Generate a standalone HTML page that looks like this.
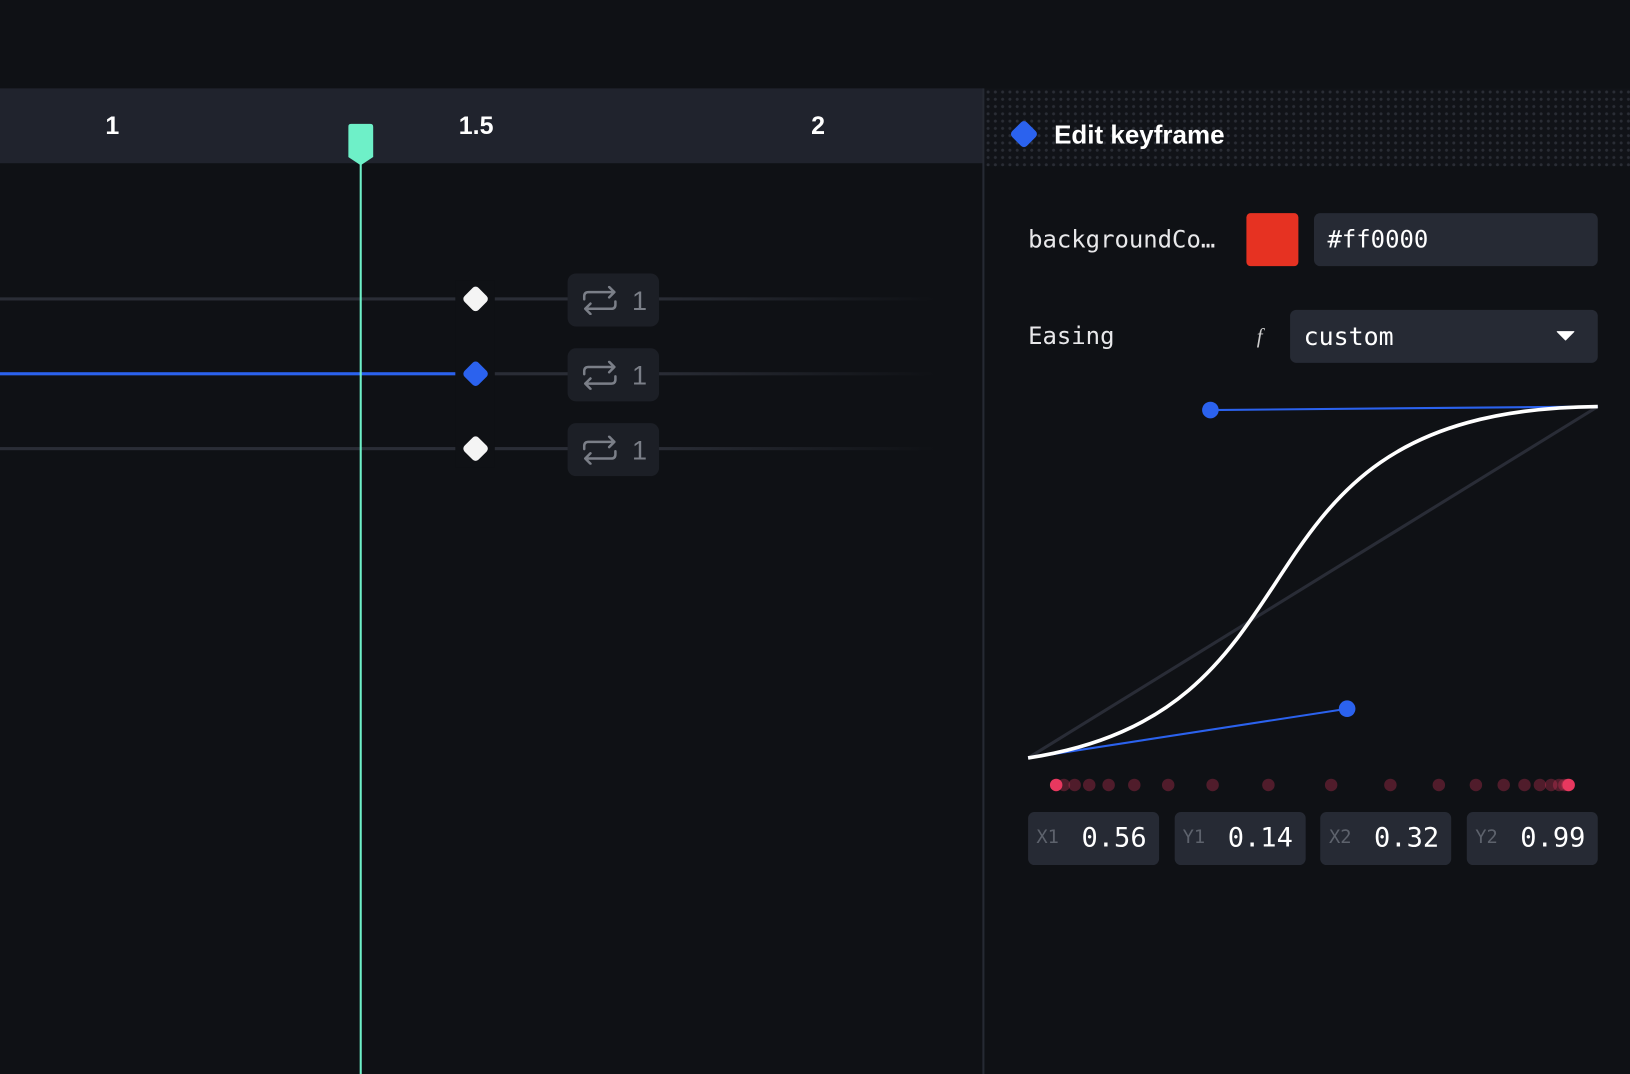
<!DOCTYPE html>
<html><head><meta charset="utf-8">
<style>
html,body{margin:0;padding:0;background:#0f1115;width:1630px;height:1074px;overflow:hidden}
#root{position:absolute;left:0;top:0;width:1568px;height:1033px;transform:scale(1.03954,1.03969);transform-origin:0 0;background:#0f1115;font-family:"Liberation Sans",sans-serif}
.abs{position:absolute}
.mono{font-family:"DejaVu Sans Mono","Liberation Mono",monospace}
.tick{position:absolute;top:108px;color:#fff;font-weight:bold;font-size:24px;transform:translateX(-50%)}
.track{position:absolute;left:0;width:900px;height:3px}
.kf{position:absolute;width:19px;height:19px;border-radius:4px;transform:rotate(45deg)}
.rep{position:absolute;left:546px;width:88px;height:51px;background:#1c1f26;border-radius:8px;color:#7b7f88;font-size:26px}
.field{position:absolute;background:#262a34;border-radius:6px}
.cp{position:absolute;top:781px;width:126px;height:51px;background:#262a34;border-radius:6px}
.cp .l{position:absolute;left:8px;top:14px;color:#5d626c;font-size:18px}
.cp .v{position:absolute;right:12px;top:10px;color:#fff;font-size:26px}
</style></head><body>
<div id="root">
  <div class="abs" style="left:0;top:85px;width:946px;height:72px;background:#20232d"></div>
  <div class="tick" style="left:108px">1</div>
  <div class="tick" style="left:458px">1.5</div>
  <div class="tick" style="left:787px">2</div>

  <div class="track" style="top:286px;background:linear-gradient(90deg,#2a2d36 70%,rgba(42,45,54,0))"></div>
  <div class="track" style="top:358px;background:linear-gradient(90deg,#2b62ee 0,#2b62ee 438px,#2a2d36 438px,#2a2d36 70%,rgba(42,45,54,0))"></div>
  <div class="track" style="top:430px;background:linear-gradient(90deg,#2a2d36 70%,rgba(42,45,54,0))"></div>
  <div class="abs" style="left:438px;top:270px;width:38px;height:180px;background:#0f1115"></div>
  <div class="kf" style="left:448px;top:278px;background:#f4f4f4"></div>
  <div class="kf" style="left:448px;top:350px;background:#2b62ee"></div>
  <div class="kf" style="left:448px;top:422px;background:#f4f4f4"></div>
  <div id="reps"></div>

  <div class="abs" style="left:346px;top:150px;width:2px;height:883px;background:#6ef0c8"></div>
  <svg class="abs" style="left:335px;top:119px" width="25" height="42"><path d="M3 0H21Q24 0 24 3V32L12 40L0 32V3Q0 0 3 0Z" fill="#6ef0c8"/></svg>

  <div class="abs" style="left:945px;top:85px;width:2px;height:948px;background:#262a33"></div>
  <div class="abs" style="left:947px;top:85px;width:621px;height:75px;background-color:#111318;background-image:radial-gradient(circle,#2a2d35 1.3px,transparent 1.6px);background-size:7px 7px"></div>
  <div class="kf" style="left:975px;top:119px;width:20px;height:20px;background:#2b62ee"></div>
  <div class="abs" style="left:1014px;top:116px;color:#fff;font-weight:bold;font-size:25px">Edit keyframe</div>

  <div class="abs mono" style="left:989px;top:218px;color:#e8e8ea;font-size:23px">backgroundCo…</div>
  <div class="abs" style="left:1199px;top:205px;width:50px;height:51px;background:#e63222;border-radius:4px"></div>
  <div class="field mono" style="left:1264px;top:205px;width:273px;height:51px;color:#fff;font-size:23px"><span style="position:absolute;left:13px;top:13px">#ff0000</span></div>

  <div class="abs mono" style="left:989px;top:311px;color:#e8e8ea;font-size:23px">Easing</div>
  <div class="abs" style="left:1209px;top:313px;color:#ccc;font-style:italic;font-family:'Liberation Serif',serif;font-size:20px">f</div>
  <div class="field mono" style="left:1241px;top:298px;width:296px;height:51px;color:#fff;font-size:24px"><span style="position:absolute;left:13px;top:12px">custom</span>
    <svg style="position:absolute;left:256px;top:20px" width="18" height="10"><path d="M1 1H17L9 9Z" fill="#fff" stroke="#fff" stroke-linejoin="round"/></svg></div>

  <svg id="curve" class="abs" style="left:0;top:0" width="1568" height="1033"></svg>
  <div id="cps"></div>
</div>
<script>
const cpLabels = ["X1","Y1","X2","Y2"];
const cpValues = [0.56, 0.14, 0.32, 0.99];
const repeatCounts = [1, 1, 1];
const repeatRows = [263, 335, 407];
const sampleCount = 20;

const reps = document.getElementById('reps');
repeatCounts.forEach((c,i)=>{
  const d=document.createElement('div');
  d.className='rep';
  d.style.top=repeatRows[i]+'px';
  
  
  d.innerHTML='<svg style="position:absolute;left:13px;top:12px" width="36" height="28" fill="none" stroke="#7b7f88" stroke-width="2.4" stroke-linecap="round" stroke-linejoin="round"><path d="M3 13V10Q3 6 7 6H32M27 1L32 6L27 11"/><path d="M33 15V18Q33 22 29 22H4M9 17L4 22L9 27"/></svg><span style="position:absolute;left:62px;top:11px">'+c+'</span>';
  reps.appendChild(d);
});

const X0=989, X1=1537, Y0=729, Y1=391;
const sx=v=>X0+v*(X1-X0);
const sy=v=>Y0-v*(Y0-Y1);
const svg=document.getElementById('curve');
const NS='http://www.w3.org/2000/svg';
function mk(tag,attrs,name){const e=document.createElementNS(NS,tag);for(const k in attrs)e.setAttribute(k,attrs[k]);
  
  
  svg.appendChild(e);return e;}
const [cx1,cy1,cx2,cy2]=cpValues;
mk('line',{x1:sx(0),y1:sy(0),x2:sx(1),y2:sy(1),stroke:'#292c36','stroke-width':3},'linear-reference');
mk('line',{x1:sx(0),y1:sy(0),x2:sx(cx1),y2:sy(cy1),stroke:'#2b62ee','stroke-width':2},'handle-line-1');
mk('line',{x1:sx(1),y1:sy(1),x2:sx(cx2),y2:sy(cy2),stroke:'#2b62ee','stroke-width':2},'handle-line-2');
mk('path',{d:`M${sx(0)} ${sy(0)}C${sx(cx1)} ${sy(cy1)} ${sx(cx2)} ${sy(cy2)} ${sx(1)} ${sy(1)}`,fill:'none',stroke:'#fff','stroke-width':3.5},'easing-curve');
const h1=mk('circle',{cx:sx(cx1),cy:sy(cy1),r:8,fill:'#2b62ee'},'control-point-1');

const h2=mk('circle',{cx:sx(cx2),cy:sy(cy2),r:8,fill:'#2b62ee'},'control-point-2');


const bez=(t,a,b)=>3*(1-t)*(1-t)*t*a+3*(1-t)*t*t*b+t*t*t;
function solveT(x){let lo=0,hi=1;for(let k=0;k<40;k++){const m=(lo+hi)/2;if(bez(m,cx1,cx2)<x)lo=m;else hi=m;}return (lo+hi)/2;}
const DX0=1016, DX1=1509;
const ends=[];
for(let i=0;i<=sampleCount;i++){
  const p=bez(solveT(i/sampleCount),cy1,cy2);
  const x=DX0+p*(DX1-DX0);
  if(i===0||i===sampleCount){ends.push(x);continue;}
  mk('circle',{cx:x,cy:755,r:6,fill:'#e8385f','fill-opacity':0.3},'sample-dot');
}
ends.forEach(x=>mk('circle',{cx:x,cy:755,r:6,fill:'#e8385f'},'sample-dot-end'));

const cps=document.getElementById('cps');
cpLabels.forEach((l,i)=>{
  const d=document.createElement('div');
  d.className='cp mono';
  d.style.left=(989+i*140.7)+'px';
  
  
  d.innerHTML='<span class="l">'+l+'</span><span class="v">'+cpValues[i].toFixed(2)+'</span>';
  cps.appendChild(d);
});
</script>
</body></html>
